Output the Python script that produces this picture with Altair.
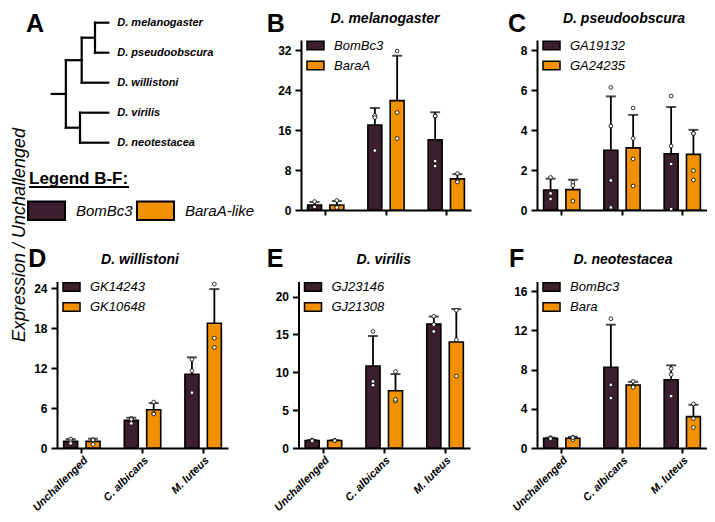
import altair as alt
import pandas as pd
import numpy as np

FONT = "Liberation Sans"
DARK = "#3b1f2c"
ORANGE = "#f29100"
RECT = "M-1,-0.5H1V0.5H-1Z"
W, H = 699, 506

categories = ["Unchallenged", "C. albicans", "M. luteus"]

# ---- Panel B: D. melanogaster (replicates per category) ----
mel_genes = ["BomBc3", "BaraA"]
mel_g1 = [[1.7, 0.7, 0.6], [18.7, 18.9, 18.5, 11.9], [18.8, 18.8, 9.8, 8.8]]
mel_g2 = [[1.9, 0.6, 0.5], [31.8, 19.5, 14.3], [7.3, 5.8, 5.6]]
mel_ticks = [0, 8, 16, 24, 32]

# ---- Panel C: D. pseudoobscura ----
pse_genes = ["GA19132", "GA24235"]
pse_g1 = [[1.63, 0.83, 0.55], [6.13, 4.2, 1.48, 0.13], [5.7, 3.2, 2.3, 0.05]]
pse_g2 = [[1.38, 1.22, 0.45], [5.1, 3.58, 2.55, 1.2], [3.83, 3.83, 1.97, 1.5]]
pse_ticks = [0, 2, 4, 6, 8]

# ---- Panel D: D. willistoni ----
wil_genes = ["GK14243", "GK10648"]
wil_g1 = [[1.35, 0.95, 0.7], [4.45, 4.3, 3.7], [13.3, 11.6, 8.3]]
wil_g2 = [[1.25, 1.2, 0.55], [6.9, 5.2, 5.1], [24.6, 16.5, 15.1]]
wil_ticks = [0, 6, 12, 18, 24]

# ---- Panel E: D. virilis ----
vir_genes = ["GJ23146", "GJ21308"]
vir_g1 = [[1.05, 1.0, 0.95], [15.4, 8.8, 8.3], [17.4, 16.3, 15.4]]
vir_g2 = [[1.03, 1.0, 0.97], [10.1, 6.2, 6.4], [18.2, 14.3, 9.5]]
vir_ticks = [0, 5, 10, 15, 20]

# ---- Panel F: D. neotestacea ----
neo_genes = ["BomBc3", "Bara"]
neo_g1 = [[1.05, 1.0, 0.95], [13.2, 6.45, 5.1], [8.1, 7.5, 5.3]]
neo_g2 = [[0.85, 1.1, 1.05], [6.8, 6.3, 6.2], [4.5, 3.0, 2.1]]
neo_ticks = [0, 4, 8, 12, 16]

legend_genes = ["BomBc3", "BaraA-like"]

# ---- Panel A: cladogram ----
tree_leaves = ["D. melanogaster", "D. pseudoobscura", "D. willistoni", "D. virilis", "D. neotestacea"]
tree_parent = {"D. melanogaster": "melpse", "D. pseudoobscura": "melpse",
               "D. willistoni": "sopho", "D. virilis": "droso", "D. neotestacea": "droso",
               "melpse": "sopho", "sopho": "root", "droso": "root"}
tree_internal = ["melpse", "sopho", "droso", "root"]
tree_depth = {"root": 1.0, "sopho": 2.12, "melpse": 3.06, "droso": 2.0}
tip_depth = 4.0
stem_start = 0.0


def build_tree():
    ypos = {leaf: float(i) for i, leaf in enumerate(tree_leaves)}
    depth = dict(tree_depth)
    for leaf in tree_leaves:
        depth[leaf] = tip_depth
    children = {n: [c for c, p in tree_parent.items() if p == n] for n in tree_internal}
    for n in tree_internal:
        ypos[n] = float(np.mean([ypos[c] for c in children[n]]))
    segs = []
    for node, par in tree_parent.items():
        segs.append({"x": depth[par], "x2": depth[node], "y": ypos[node], "y2": ypos[node]})
    for n in tree_internal:
        ys = [ypos[c] for c in children[n]]
        segs.append({"x": depth[n], "x2": depth[n], "y": min(ys), "y2": max(ys)})
    segs.append({"x": stem_start, "x2": depth["root"], "y": ypos["root"], "y2": ypos["root"]})
    leaves = pd.DataFrame({"name": tree_leaves, "d": [tip_depth] * len(tree_leaves),
                           "y": [ypos[l] for l in tree_leaves]})
    return pd.DataFrame(segs), leaves


def text_mark(txt, x, y, size, weight="bold", style="normal", align="left",
              baseline="alphabetic", angle=0):
    return alt.Chart(alt.Data(values=[{}])).mark_text(
        text=txt, font=FONT, fontSize=size, fontWeight=weight, fontStyle=style,
        align=align, baseline=baseline, angle=angle, color="black"
    ).encode(x=alt.value(x), y=alt.value(y))


def panel(genes, g1, g2, ticks, ymax, x0, x1, y0, ytop, show_labels):
    reps, summ = [], []
    for gi, (gene, vals) in enumerate(zip(genes, [g1, g2])):
        for cat, v in zip(categories, vals):
            for r in v:
                reps.append({"cat": cat, "series": f"s{gi}", "gene": gene, "value": r})
            arr = np.array(v, dtype=float)
            m = arr.mean()
            sd = arr.std(ddof=1)
            summ.append({"cat": cat, "series": f"s{gi}", "gene": gene, "mean": m, "upper": m + sd})
    reps = pd.DataFrame(reps)
    summ = pd.DataFrame(summ)

    xaxis = alt.Axis(orient="bottom", offset=y0 - H, labels=show_labels, labelAngle=-45,
                     labelAlign="right", labelBaseline="top", labelFont=FONT, labelFontSize=11,
                     labelFontWeight="bold", labelFontStyle="italic", labelColor="black",
                     labelPadding=1, tickSize=5, tickWidth=2, tickColor="black",
                     domainColor="black", domainWidth=2, grid=False, title=None)
    yaxis = alt.Axis(orient="left", offset=-x0, values=ticks, labelFont=FONT, labelFontSize=12,
                     labelFontWeight="bold", labelColor="black", labelPadding=4, tickSize=6,
                     tickWidth=2, tickColor="black", domainColor="black", domainWidth=2,
                     grid=False, title=None)
    X = alt.X("cat:N", sort=categories, axis=xaxis,
              scale=alt.Scale(domain=categories, range=[x0, x1], paddingInner=0.3, paddingOuter=0.06))
    ys = alt.Scale(domain=[0, ymax], range=[y0, ytop], nice=False, zero=True)
    XO = alt.XOffset("series:N", scale=alt.Scale(domain=["s0", "s1"], paddingInner=0.375,
                                                  paddingOuter=0.134))
    color = alt.Color("gene:N", scale=alt.Scale(domain=genes, range=[DARK, ORANGE]),
                      legend=alt.Legend(orient="none", legendX=x0 + 5, legendY=ytop - 4, title=None,
                                        symbolType=RECT, symbolSize=289, symbolStrokeColor="black",
                                        symbolStrokeWidth=1.5, symbolOpacity=1, labelFont=FONT,
                                        labelFontSize=13, labelFontStyle="italic", labelColor="black",
                                        labelOffset=9, rowPadding=3, padding=0))
    bars = alt.Chart(summ).mark_bar(stroke="black", strokeWidth=1.6).encode(
        x=X, xOffset=XO, y=alt.Y("mean:Q", scale=ys, axis=yaxis), color=color)
    err = alt.Chart(summ).mark_rule(color="black", strokeWidth=1.8).encode(
        x=X, xOffset=XO, y=alt.Y("mean:Q", scale=ys, axis=yaxis), y2="upper:Q")
    cap = alt.Chart(summ).mark_tick(color="black", thickness=2, size=10).encode(
        x=X, xOffset=XO, y=alt.Y("upper:Q", scale=ys, axis=yaxis))
    pts = alt.Chart(reps).mark_point(shape="circle", filled=True, fill="white", stroke="black",
                                     strokeWidth=0.8, size=14, opacity=1).encode(
        x=X, xOffset=XO, y=alt.Y("value:Q", scale=ys, axis=yaxis))
    return alt.layer(bars, err, cap, pts)


# tree layer
segs, leaves = build_tree()
tx = alt.Scale(domain=[0, 4], range=[43.7, 100.3])
ty = alt.Scale(domain=[0, 4], range=[14.7, 134.7])
tree_rules = alt.Chart(segs).mark_rule(color="black", strokeWidth=2.2, strokeCap="square").encode(
    x=alt.X("x:Q", scale=tx, axis=None), x2="x2:Q",
    y=alt.Y("y:Q", scale=ty, axis=None), y2="y2:Q")
tree_text = alt.Chart(leaves).mark_text(align="left", baseline="middle", dx=9, font=FONT,
                                        fontSize=11, fontWeight="bold", fontStyle="italic",
                                        color="black").encode(
    x=alt.X("d:Q", scale=tx, axis=None), y=alt.Y("y:Q", scale=ty, axis=None), text="name:N")
tree = alt.layer(tree_rules, tree_text)

# shared legend B-F
legend_layer = alt.Chart(pd.DataFrame({"gene": legend_genes})).mark_square(opacity=0).encode(
    color=alt.Color("gene:N", scale=alt.Scale(domain=legend_genes, range=[DARK, ORANGE]),
                    legend=alt.Legend(orient="none", direction="horizontal", legendX=19, legendY=183,
                                      title=None, symbolType=RECT, symbolSize=1369,
                                      symbolStrokeColor="black", symbolStrokeWidth=2, symbolOpacity=1,
                                      labelFont=FONT, labelFontSize=15, labelFontStyle="italic",
                                      labelColor="black", labelOffset=10, columnPadding=0, padding=0)))

underline = alt.Chart(alt.Data(values=[{}])).mark_rule(color="black", strokeWidth=1.8).encode(
    x=alt.value(21), x2=alt.value(121), y=alt.value(179))

texts = [
    text_mark("A", 18, 23.5, 25),
    text_mark("B", 258.7, 23.5, 25),
    text_mark("C", 500, 23.5, 25),
    text_mark("D", 20.3, 259, 25),
    text_mark("E", 258.7, 259, 25),
    text_mark("F", 501, 259, 25),
    text_mark("D. melanogaster", 377, 15, 14, style="italic", align="center"),
    text_mark("D. pseudoobscura", 616, 15, 14, style="italic", align="center"),
    text_mark("D. willistoni", 132, 256, 14, style="italic", align="center"),
    text_mark("D. virilis", 375.8, 256, 14, style="italic", align="center"),
    text_mark("D. neotestacea", 615, 256, 14, style="italic", align="center"),
    text_mark("Legend B-F:", 21, 176, 17),
    text_mark("Expression / Unchallenged", 11.5, 227, 18, weight="normal", style="italic",
              align="center", baseline="middle", angle=270),
]

pB = panel(mel_genes, mel_g1, mel_g2, mel_ticks, 34, 293, 463, 202, 32, False)
pC = panel(pse_genes, pse_g1, pse_g2, pse_ticks, 8.5, 529, 699, 202, 32, False)
pD = panel(wil_genes, wil_g1, wil_g2, wil_ticks, 25, 49, 220, 440, 273.5, True)
pE = panel(vir_genes, vir_g1, vir_g2, vir_ticks, 22, 290.5, 462, 440, 273.5, True)
pF = panel(neo_genes, neo_g1, neo_g2, neo_ticks, 17, 529, 699, 440, 273.5, True)

chart = alt.layer(tree, legend_layer, underline, *texts, pB, pC, pD, pE, pF).resolve_scale(
    x="independent", y="independent", color="independent", xOffset="independent"
).resolve_axis(x="independent", y="independent").resolve_legend(color="independent").properties(
    width=W, height=H, autosize=alt.AutoSizeParams(type="none"), padding=0
).configure_view(stroke=None)

chart.save("out.html", embed_options={"renderer": "svg", "actions": False})
